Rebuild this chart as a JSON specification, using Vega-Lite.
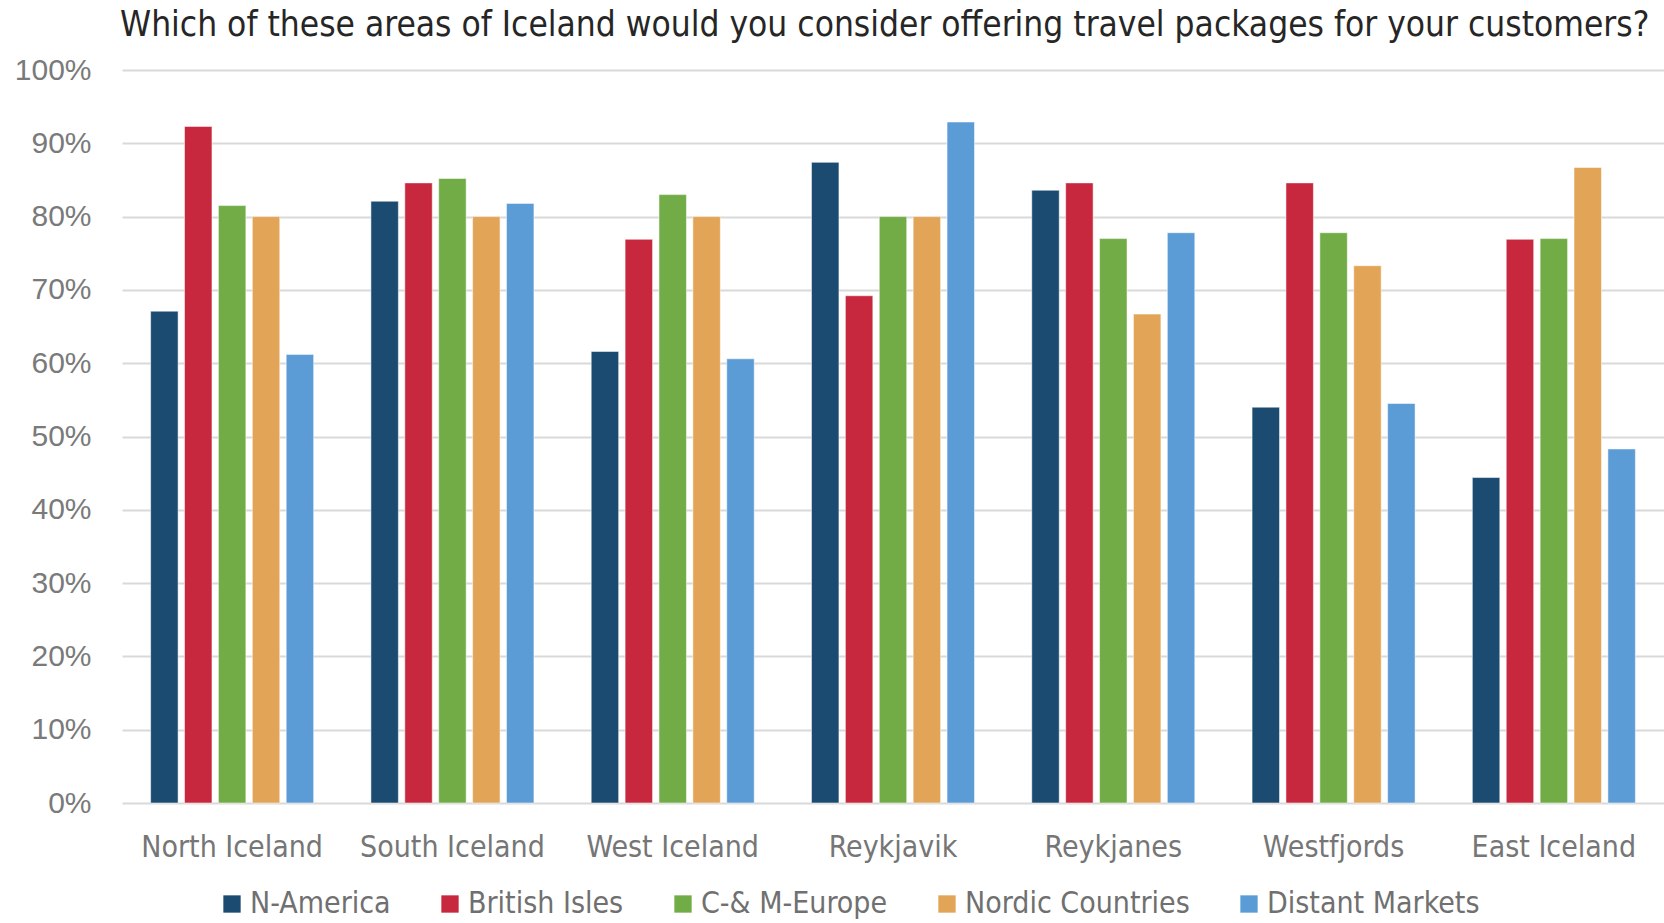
{
  "$schema": "https://vega.github.io/schema/vega-lite/v6.json",
  "width": 1542,
  "height": 733,
  "autosize": {"type": "none"},
  "padding": {"left": 122, "top": 70, "right": 0, "bottom": 120},
  "background": "white",
  "title": {
    "text": "Which of these areas of Iceland would you consider offering travel packages for your customers?",
    "anchor": "start",
    "frame": "group",
    "dx": -2,
    "offset": -16,
    "baseline": "alphabetic",
    "font": "DejaVu Sans Condensed, Liberation Sans",
    "fontSize": 35,
    "fontWeight": "normal",
    "color": "#262626"
  },
  "data": {
    "values": [
      {"area": "North Iceland", "market": "N-America", "value": 0.671},
      {"area": "North Iceland", "market": "British Isles", "value": 0.923},
      {"area": "North Iceland", "market": "C-& M-Europe", "value": 0.815},
      {"area": "North Iceland", "market": "Nordic Countries", "value": 0.80},
      {"area": "North Iceland", "market": "Distant Markets", "value": 0.612},
      {"area": "South Iceland", "market": "N-America", "value": 0.821},
      {"area": "South Iceland", "market": "British Isles", "value": 0.846},
      {"area": "South Iceland", "market": "C-& M-Europe", "value": 0.852},
      {"area": "South Iceland", "market": "Nordic Countries", "value": 0.80},
      {"area": "South Iceland", "market": "Distant Markets", "value": 0.818},
      {"area": "West Iceland", "market": "N-America", "value": 0.616},
      {"area": "West Iceland", "market": "British Isles", "value": 0.769},
      {"area": "West Iceland", "market": "C-& M-Europe", "value": 0.830},
      {"area": "West Iceland", "market": "Nordic Countries", "value": 0.80},
      {"area": "West Iceland", "market": "Distant Markets", "value": 0.606},
      {"area": "Reykjavik", "market": "N-America", "value": 0.874},
      {"area": "Reykjavik", "market": "British Isles", "value": 0.692},
      {"area": "Reykjavik", "market": "C-& M-Europe", "value": 0.80},
      {"area": "Reykjavik", "market": "Nordic Countries", "value": 0.80},
      {"area": "Reykjavik", "market": "Distant Markets", "value": 0.929},
      {"area": "Reykjanes", "market": "N-America", "value": 0.836},
      {"area": "Reykjanes", "market": "British Isles", "value": 0.846},
      {"area": "Reykjanes", "market": "C-& M-Europe", "value": 0.770},
      {"area": "Reykjanes", "market": "Nordic Countries", "value": 0.667},
      {"area": "Reykjanes", "market": "Distant Markets", "value": 0.778},
      {"area": "Westfjords", "market": "N-America", "value": 0.540},
      {"area": "Westfjords", "market": "British Isles", "value": 0.846},
      {"area": "Westfjords", "market": "C-& M-Europe", "value": 0.778},
      {"area": "Westfjords", "market": "Nordic Countries", "value": 0.733},
      {"area": "Westfjords", "market": "Distant Markets", "value": 0.545},
      {"area": "East Iceland", "market": "N-America", "value": 0.444},
      {"area": "East Iceland", "market": "British Isles", "value": 0.769},
      {"area": "East Iceland", "market": "C-& M-Europe", "value": 0.770},
      {"area": "East Iceland", "market": "Nordic Countries", "value": 0.867},
      {"area": "East Iceland", "market": "Distant Markets", "value": 0.483}
    ]
  },
  "mark": {"type": "bar", "stroke": "white", "strokeOpacity": 0.5, "strokeWidth": 1},
  "encoding": {
    "x": {
      "field": "area",
      "type": "nominal",
      "sort": null,
      "scale": {"paddingInner": 0.26, "paddingOuter": 0.13},
      "axis": {
        "title": null,
        "labelAngle": 0,
        "ticks": false,
        "domain": false,
        "labelFont": "DejaVu Sans Condensed, Liberation Sans",
        "labelFontSize": 30,
        "labelColor": "#767676",
        "labelPadding": 29,
        "labelLimit": 0
      }
    },
    "xOffset": {
      "field": "market",
      "type": "nominal",
      "sort": null,
      "scale": {"paddingInner": 0.19, "paddingOuter": 0}
    },
    "y": {
      "field": "value",
      "type": "quantitative",
      "scale": {"domain": [0, 1], "nice": false},
      "axis": {
        "title": null,
        "format": ".0%",
        "values": [0, 0.1, 0.2, 0.3, 0.4, 0.5, 0.6, 0.7, 0.8, 0.9, 1.0],
        "ticks": false,
        "domain": false,
        "gridColor": "#d9d9d9",
        "gridWidth": 2,
        "labelFont": "Liberation Sans",
        "labelFontSize": 30,
        "labelColor": "#7a7a7a",
        "labelPadding": 31
      }
    },
    "color": {
      "field": "market",
      "type": "nominal",
      "sort": null,
      "scale": {
        "domain": ["N-America", "British Isles", "C-& M-Europe", "Nordic Countries", "Distant Markets"],
        "range": ["#1c4b72", "#c8283e", "#72ac47", "#e2a457", "#5b9bd6"]
      },
      "legend": {
        "title": null,
        "orient": "none",
        "direction": "horizontal",
        "legendX": 95,
        "legendY": 819,
        "symbolType": "square",
        "symbolSize": 300,
        "symbolStrokeWidth": 0,
        "labelFont": "DejaVu Sans Condensed, Liberation Sans",
        "labelFontSize": 30,
        "labelColor": "#707070",
        "labelOffset": 3,
        "columnPadding": 44,
        "labelLimit": 400
      }
    }
  },
  "config": {
    "view": {"stroke": null}
  }
}
